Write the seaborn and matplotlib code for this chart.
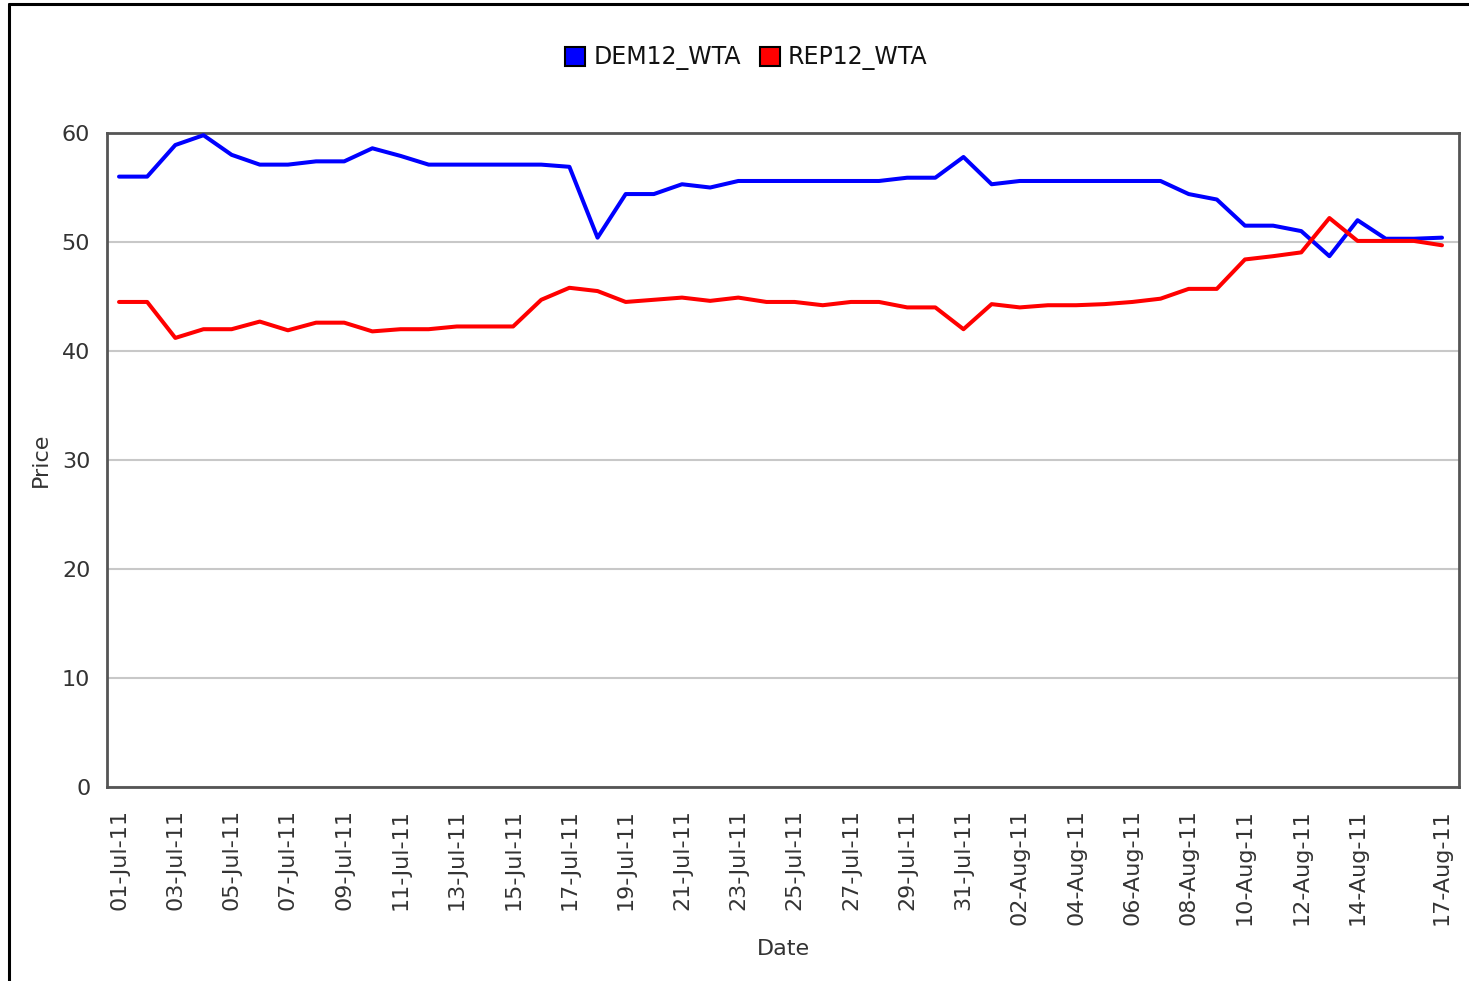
import matplotlib
matplotlib.use("Agg")
import matplotlib.pyplot as plt
from matplotlib.lines import Line2D
from matplotlib.patches import Patch
import seaborn as sns
import pandas as pd

# ---- data ----
start_date = "2011-07-01"
end_date = "2011-08-17"
series_names = ["DEM12_WTA", "REP12_WTA"]
dem_values = [56.0, 56.0, 58.9, 59.8, 58.0, 57.1, 57.1, 57.4, 57.4, 58.6,
              57.9, 57.1, 57.1, 57.1, 57.1, 57.1, 56.9, 50.4, 54.4, 54.4,
              55.3, 55.0, 55.6, 55.6, 55.6, 55.6, 55.6, 55.6, 55.9, 55.9,
              57.8,
              55.3, 55.6, 55.6, 55.6, 55.6, 55.6, 55.6, 54.4, 53.9, 51.5,
              51.5, 51.0, 48.7, 52.0, 50.3, 50.3, 50.4]
rep_values = [44.5, 44.5, 41.2, 42.0, 42.0, 42.7, 41.9, 42.6, 42.6, 41.8,
              42.0, 42.0, 42.25, 42.25, 42.25, 44.7, 45.8, 45.5, 44.5, 44.7,
              44.9, 44.6, 44.9, 44.5, 44.5, 44.2, 44.5, 44.5, 44.0, 44.0,
              42.0,
              44.3, 44.0, 44.2, 44.2, 44.3, 44.5, 44.8, 45.7, 45.7, 48.4,
              48.7, 49.05, 52.2, 50.1, 50.1, 50.1, 49.7]
tick_labels = ["01-Jul-11", "03-Jul-11", "05-Jul-11", "07-Jul-11", "09-Jul-11",
               "11-Jul-11", "13-Jul-11", "15-Jul-11", "17-Jul-11", "19-Jul-11",
               "21-Jul-11", "23-Jul-11", "25-Jul-11", "27-Jul-11", "29-Jul-11",
               "31-Jul-11", "02-Aug-11", "04-Aug-11", "06-Aug-11", "08-Aug-11",
               "10-Aug-11", "12-Aug-11", "14-Aug-11", "17-Aug-11"]
y_ticks = [0, 10, 20, 30, 40, 50, 60]
colors = {"DEM12_WTA": "#0000ff", "REP12_WTA": "#ff0000"}

dates = pd.date_range(start_date, end_date, freq="D")
df = pd.concat([
    pd.DataFrame({"Date": dates, "Price": dem_values, "Series": series_names[0]}),
    pd.DataFrame({"Date": dates, "Price": rep_values, "Series": series_names[1]}),
])

# ---- plot ----
sns.set_style("white")
plt.rcParams["font.family"] = ["DejaVu Sans"]

fig = plt.figure(figsize=(14.69, 9.81), dpi=100)
ax = fig.add_axes([0.0728, 0.1978, 0.9204, 0.6666])

sns.lineplot(data=df, x="Date", y="Price", hue="Series", palette=colors,
             linewidth=2.9, ax=ax, legend=False, zorder=3)

ax.set_ylim(0, 60)
ax.set_yticks(y_ticks)
ax.yaxis.grid(True, color="#c8c8c8", linewidth=1.5, zorder=0)
ax.xaxis.grid(False)

tick_dates = pd.to_datetime(tick_labels, format="%d-%b-%y")
ax.set_xticks(tick_dates)
ax.set_xticklabels(tick_labels, rotation=90)
ax.set_xlim(dates[0] - pd.Timedelta(hours=10.3), dates[-1] + pd.Timedelta(hours=14.5))

for s in ax.spines.values():
    s.set_color("#555555")
    s.set_linewidth(2)
    s.set_visible(True)

ax.tick_params(axis="both", which="major", direction="out", length=8, width=2,
               color="#444444", labelsize=16, labelcolor="#333333", pad=4)
ax.tick_params(axis="x", pad=8)

ax.set_xlabel("Date", fontsize=16, color="#333333", labelpad=10)
ax.set_ylabel("Price", fontsize=16, color="#333333", labelpad=8)

handles = [Patch(facecolor=colors[n], edgecolor="black", linewidth=1.5, label=n)
           for n in series_names]
fig.legend(handles=handles, loc="center", bbox_to_anchor=(0.508, 0.941), ncol=2,
           frameon=False, fontsize=17, handlelength=0.85, handleheight=0.85,
           handletextpad=0.35, columnspacing=0.8, labelcolor="#111111")

# outer screenshot frame (top and left)
fig.add_artist(Line2D([9 / 1469, 1.0], [1 - 4 / 981, 1 - 4 / 981],
                      transform=fig.transFigure, color="black", linewidth=2.2))
fig.add_artist(Line2D([9 / 1469, 9 / 1469], [1 - 4 / 981, 0.0],
                      transform=fig.transFigure, color="black", linewidth=2.2))

fig.savefig("out.png", dpi=100)
